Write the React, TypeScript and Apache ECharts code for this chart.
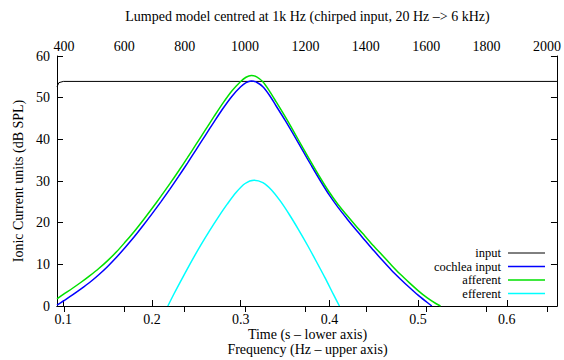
import React, { useEffect, useRef } from 'react';
import * as echarts from 'echarts';

const FONT = "'Liberation Serif', 'Times New Roman', Times, 'DejaVu Serif', serif";

const titleText = 'Lumped model centred at 1k Hz (chirped input, 20 Hz \u2013> 6 kHz)';
const xLabel1 = 'Time (s \u2013 lower axis)';
const xLabel2 = 'Frequency (Hz \u2013 upper axis)';
const yLabel = 'Ionic Current units (dB SPL)';

const timeRange = [0.0929, 0.6566];
const freqRange = [377, 2033];
const yRange = [0, 60];

const seriesNames = ['input', 'cochlea input', 'afferent', 'efferent'];
const seriesColors = ['#000000', '#0000ff', '#00e000', '#00ffff'];

const inputT = [0.0929, 0.095, 0.1, 0.6566];
const inputV = [52.6, 53.6, 53.9, 53.9];

const cochleaT = [0.0929, 0.1, 0.11, 0.12, 0.13, 0.14, 0.15, 0.16, 0.17, 0.18, 0.19, 0.2, 0.21, 0.22, 0.23, 0.24, 0.25, 0.26, 0.27, 0.28, 0.29, 0.3, 0.306, 0.312, 0.318, 0.325, 0.333, 0.34, 0.35, 0.36, 0.37, 0.38, 0.39, 0.4, 0.41, 0.42, 0.43, 0.44, 0.45, 0.46, 0.47, 0.48, 0.49, 0.5, 0.51, 0.5155];
const cochleaV = [0.2, 1.2, 2.6, 4.1, 5.7, 7.5, 9.5, 11.7, 14.1, 16.6, 19.3, 22.1, 25.0, 28.0, 31.1, 34.3, 37.6, 40.9, 44.2, 47.4, 50.3, 52.6, 53.6, 54.0, 53.7, 52.6, 50.4, 48.0, 44.6, 41.0, 37.3, 33.6, 30.0, 26.6, 23.6, 20.9, 18.3, 15.8, 13.3, 10.9, 8.6, 6.5, 4.5, 2.6, 0.9, 0];

const afferentT = [0.0929, 0.1, 0.11, 0.12, 0.13, 0.14, 0.15, 0.16, 0.17, 0.18, 0.19, 0.2, 0.21, 0.22, 0.23, 0.24, 0.25, 0.26, 0.27, 0.28, 0.29, 0.3, 0.306, 0.312, 0.318, 0.325, 0.333, 0.34, 0.35, 0.36, 0.37, 0.38, 0.39, 0.4, 0.41, 0.42, 0.43, 0.44, 0.45, 0.46, 0.47, 0.48, 0.49, 0.5, 0.51, 0.52, 0.5253];
const afferentV = [1.7, 2.8, 4.2, 5.7, 7.3, 9.0, 10.9, 13.0, 15.4, 17.9, 20.6, 23.4, 26.3, 29.3, 32.4, 35.6, 38.9, 42.2, 45.5, 48.7, 51.6, 53.9, 54.9, 55.3, 55.0, 53.8, 51.4, 49.0, 45.5, 41.8, 38.0, 34.3, 30.7, 27.3, 24.3, 21.7, 19.2, 16.8, 14.4, 12.1, 9.8, 7.6, 5.6, 3.7, 2.0, 0.6, 0];

const efferentT = [0.2179, 0.225, 0.235, 0.245, 0.255, 0.265, 0.275, 0.285, 0.295, 0.305, 0.315, 0.325, 0.335, 0.345, 0.355, 0.365, 0.375, 0.385, 0.395, 0.405, 0.4113];
const efferentV = [0, 3.0, 7.0, 10.9, 14.6, 18.1, 21.4, 24.5, 27.3, 29.4, 30.2, 29.6, 27.8, 25.1, 21.9, 18.4, 14.7, 10.8, 6.8, 2.6, 0];

const pairs = (t: number[], v: number[]) => t.map((x, i) => [x, v[i]]);

export default function App() {
  const ref = useRef<HTMLDivElement>(null);
  useEffect(() => {
    if (!ref.current) return;
    const chart = echarts.init(ref.current, undefined, { renderer: 'svg' });
    const axisLine = { show: true, lineStyle: { color: '#000', width: 1 } };
    const tick = { show: true, inside: true, length: 6, lineStyle: { color: '#000', width: 1 } };
    const label = { color: '#000', fontFamily: FONT, fontSize: 14 };
    const datasets = [
      pairs(inputT, inputV),
      pairs(cochleaT, cochleaV),
      pairs(afferentT, afferentV),
      pairs(efferentT, efferentV),
    ];
    const legendYs = [253, 266.5, 280, 293.5];
    const txt = (size: number) => ({ fill: '#000', fontFamily: FONT, fontSize: size });
    const graphic: any[] = [
      { type: 'text', x: 307.5, y: 16, style: { ...txt(14), text: titleText, textAlign: 'center', textVerticalAlign: 'middle' } },
      { type: 'text', x: 307.5, y: 334, style: { ...txt(14), text: xLabel1, textAlign: 'center', textVerticalAlign: 'middle' } },
      { type: 'text', x: 307.5, y: 349, style: { ...txt(14), text: xLabel2, textAlign: 'center', textVerticalAlign: 'middle' } },
      { type: 'text', x: 18, y: 181, rotation: Math.PI / 2, style: { ...txt(14), text: yLabel, textAlign: 'center', textVerticalAlign: 'middle' } },
    ];
    seriesNames.forEach((n, i) => {
      graphic.push({ type: 'text', x: 501, y: legendYs[i], style: { ...txt(12.5), text: n, textAlign: 'right', textVerticalAlign: 'middle' } });
      graphic.push({ type: 'line', shape: { x1: 508, y1: legendYs[i], x2: 545, y2: legendYs[i] }, style: { stroke: seriesColors[i], lineWidth: i === 0 ? 1 : 1.5 } });
    });
    chart.setOption({
      animation: false,
      backgroundColor: '#fff',
      grid: { left: 57, right: 6, top: 56, bottom: 54, containLabel: false },
      xAxis: [
        {
          type: 'value', position: 'bottom', min: timeRange[0], max: timeRange[1], splitNumber: 6,
          axisLine, axisTick: tick, splitLine: { show: false },
          axisLabel: { ...label, margin: 6, showMinLabel: false, showMaxLabel: false },
        },
        {
          type: 'value', position: 'top', min: freqRange[0], max: freqRange[1], splitNumber: 8,
          axisLine, axisTick: tick, splitLine: { show: false },
          axisLabel: { ...label, margin: 3, showMinLabel: false, showMaxLabel: false, formatter: (v: number) => String(Math.round(v)) },
        },
      ],
      yAxis: [
        {
          type: 'value', position: 'left', min: yRange[0], max: yRange[1], interval: 10,
          axisLine, axisTick: tick, splitLine: { show: false },
          axisLabel: { ...label, margin: 7 },
        },
        {
          type: 'value', position: 'right', min: yRange[0], max: yRange[1], interval: 10,
          axisLine, axisTick: tick, splitLine: { show: false },
          axisLabel: { show: false },
        },
      ],
      series: datasets.map((d, i) => ({
        name: seriesNames[i],
        type: 'line',
        xAxisIndex: 0,
        yAxisIndex: 0,
        data: d,
        showSymbol: false,
        symbol: 'none',
        smooth: i === 0 ? false : 0.3,
        lineStyle: { color: seriesColors[i], width: i === 0 ? 1 : 1.5 },
        clip: true,
      })),
      graphic,
    });
    return () => chart.dispose();
  }, []);
  return <div ref={ref} style={{ position: 'absolute', left: 0, top: 0, width: 564, height: 360 }} />;
}
